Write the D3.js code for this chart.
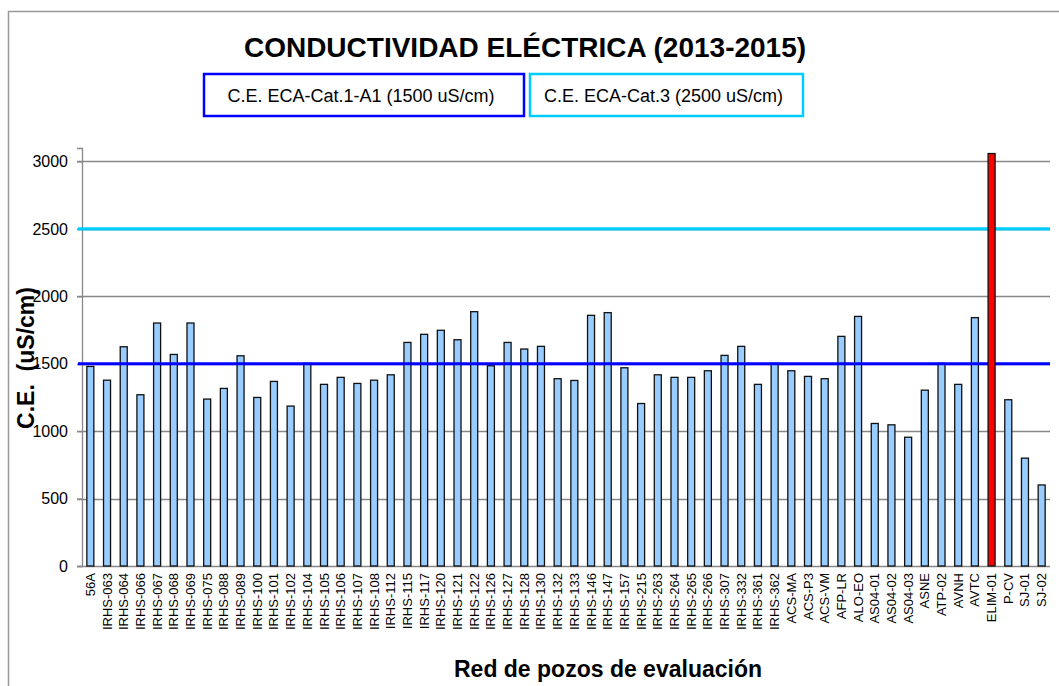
<!DOCTYPE html>
<html>
<head>
<meta charset="utf-8">
<script src="https://cdn.jsdelivr.net/npm/d3@7"></script>
<style>
  body { margin: 0; background: #fff; }
  text { font-family: "Liberation Sans", Arial, sans-serif; }
</style>
</head>
<body>
<div class="container"></div>
<script>
// wells (x categories)
var pozos = ["56A", "IRHS-063", "IRHS-064", "IRHS-066", "IRHS-067", "IRHS-068", "IRHS-069", "IRHS-075",
  "IRHS-088", "IRHS-089", "IRHS-100", "IRHS-101", "IRHS-102", "IRHS-104", "IRHS-105", "IRHS-106",
  "IRHS-107", "IRHS-108", "IRHS-112", "IRHS-115", "IRHS-117", "IRHS-120", "IRHS-121", "IRHS-122",
  "IRHS-126", "IRHS-127", "IRHS-128", "IRHS-130", "IRHS-132", "IRHS-133", "IRHS-146", "IRHS-147",
  "IRHS-157", "IRHS-215", "IRHS-263", "IRHS-264", "IRHS-265", "IRHS-266", "IRHS-307", "IRHS-332",
  "IRHS-361", "IRHS-362", "ACS-MA", "ACS-P3", "ACS-VM", "AFP-LR", "ALO-EO", "AS04-01", "AS04-02",
  "AS04-03", "ASNE", "ATP-02", "AVNH", "AVTC", "ELIM-01", "P-CV", "SJ-01", "SJ-02"];

// conductividad electrica (uS/cm)
var ce = [1480, 1378, 1626, 1270, 1802, 1569, 1802, 1238,
  1317, 1559, 1250, 1369, 1186, 1503, 1347, 1399,
  1354, 1378, 1418, 1658, 1718, 1748, 1678, 1886,
  1485, 1658, 1609, 1629, 1389, 1376, 1859, 1879,
  1470, 1205, 1418, 1399, 1399, 1448, 1562, 1629,
  1347, 1503, 1448, 1406, 1389, 1703, 1851, 1057, 1047,
  955, 1304, 1503, 1347, 1842, 3059, 1233, 800, 601];

var yTicks = [0, 500, 1000, 1500, 2000, 2500, 3000];

var limites = [
  {label: "C.E. ECA-Cat.1-A1 (1500 uS/cm)", value: 1500, color: "#0000ff"},
  {label: "C.E. ECA-Cat.3 (2500 uS/cm)", value: 2500, color: "#00ccff"}
];

var exceso = 3000; // bars above this are drawn red

var W = 1059, H = 686;
var margin = {left: 82, right: 1050, top: 148, bottom: 566};

var svg = d3.select(".container")
  .append("svg")
    .attr("width", W)
    .attr("height", H);

// outer frame (only top and left visible)
svg.append("rect")
  .attr("x", 8.5).attr("y", 11.5)
  .attr("width", W + 20).attr("height", H + 20)
  .attr("fill", "none")
  .attr("stroke", "#999")
  .attr("stroke-width", 1.5);

var x = d3.scaleBand()
  .domain(pozos)
  .range([margin.left, margin.right])
  .paddingInner(0.58)
  .paddingOuter(0.29);

var y = d3.scaleLinear()
  .domain([0, 3100])
  .range([margin.bottom, margin.top]);

// gridlines
svg.append("g")
  .selectAll("line")
  .data(yTicks.slice(1))
  .enter()
  .append("line")
    .attr("x1", margin.left - 5)
    .attr("x2", margin.right)
    .attr("y1", function(d) { return Math.round(y(d)) + 0.5; })
    .attr("y2", function(d) { return Math.round(y(d)) + 0.5; })
    .attr("stroke", "#888")
    .attr("stroke-width", 1.3);

// y axis
var yAxis = svg.append("g")
  .attr("transform", "translate(" + margin.left + ",0)")
  .call(d3.axisLeft(y).tickValues(yTicks).tickFormat(d3.format("d")).tickSize(5).tickPadding(9));
yAxis.select(".domain").attr("stroke", "#888").attr("stroke-width", 1.3);
yAxis.selectAll(".tick line").attr("stroke", "#888").attr("stroke-width", 1.3);
yAxis.selectAll(".tick text")
  .style("font-family", "'Liberation Sans', Arial, sans-serif")
  .style("font-size", "16px")
  .attr("fill", "#000");

// x axis line
svg.append("line")
  .attr("x1", margin.left - 5).attr("x2", margin.right)
  .attr("y1", margin.bottom + 0.5).attr("y2", margin.bottom + 0.5)
  .attr("stroke", "#888")
  .attr("stroke-width", 1.5);

// bars
var data = pozos.map(function(p, i) { return {pozo: p, value: ce[i]}; });

svg.append("g")
  .selectAll("rect")
  .data(data.filter(function(d) { return d.value <= exceso; }))
  .enter()
  .append("rect")
    .attr("x", function(d) { return x(d.pozo); })
    .attr("y", function(d) { return y(d.value); })
    .attr("width", x.bandwidth())
    .attr("height", function(d) { return y(0) - y(d.value); })
    .attr("fill", "#99ccff")
    .attr("stroke", "#111")
    .attr("stroke-width", 1.3);

// limit lines
svg.append("g")
  .selectAll("line")
  .data(limites)
  .enter()
  .append("line")
    .attr("x1", margin.left - 4)
    .attr("x2", margin.right)
    .attr("y1", function(d) { return y(d.value); })
    .attr("y2", function(d) { return y(d.value); })
    .attr("stroke", function(d) { return d.color; })
    .attr("stroke-width", 3.2);

// bars exceeding the limit
svg.append("g")
  .selectAll("rect")
  .data(data.filter(function(d) { return d.value > exceso; }))
  .enter()
  .append("rect")
    .attr("x", function(d) { return x(d.pozo); })
    .attr("y", function(d) { return y(d.value); })
    .attr("width", x.bandwidth())
    .attr("height", function(d) { return y(0) - y(d.value); })
    .attr("fill", "#ff0000")
    .attr("stroke", "#111")
    .attr("stroke-width", 1.3);

// x labels
svg.append("g")
  .selectAll("text")
  .data(pozos)
  .enter()
  .append("text")
    .attr("transform", function(d) {
      return "translate(" + (x(d) + x.bandwidth() / 2 + 4.5) + "," + (margin.bottom + 7) + ") rotate(-90)";
    })
    .attr("text-anchor", "end")
    .style("font-size", "13px")
    .text(function(d) { return d; });

// title
svg.append("text")
  .attr("x", 525)
  .attr("y", 57)
  .attr("text-anchor", "middle")
  .style("font-size", "28px")
  .style("font-weight", "bold")
  .text("CONDUCTIVIDAD ELÉCTRICA (2013-2015)");

// legend boxes
var legX = [204, 530], legW = [320, 273];
var leg = svg.append("g")
  .selectAll("g")
  .data(limites)
  .enter()
  .append("g");
leg.append("rect")
  .attr("x", function(d, i) { return legX[i]; })
  .attr("y", 74)
  .attr("width", function(d, i) { return legW[i]; })
  .attr("height", 42)
  .attr("fill", "#fff")
  .attr("stroke", function(d) { return d.color; })
  .attr("stroke-width", 2.5);
leg.append("text")
  .attr("x", function(d, i) { return legX[i] + legW[i] / 2 - 3; })
  .attr("y", 102)
  .attr("text-anchor", "middle")
  .style("font-size", "18px")
  .text(function(d) { return d.label; });

// axis titles
svg.append("text")
  .attr("transform", "translate(34,358) rotate(-90)")
  .attr("text-anchor", "middle")
  .style("font-size", "23px")
  .style("font-weight", "bold")
  .attr("xml:space", "preserve")
  .text("C.E.  (uS/cm)");

svg.append("text")
  .attr("x", 608)
  .attr("y", 677)
  .attr("text-anchor", "middle")
  .style("font-size", "23px")
  .style("font-weight", "bold")
  .text("Red de pozos de evaluación");
</script>
</body>
</html>
